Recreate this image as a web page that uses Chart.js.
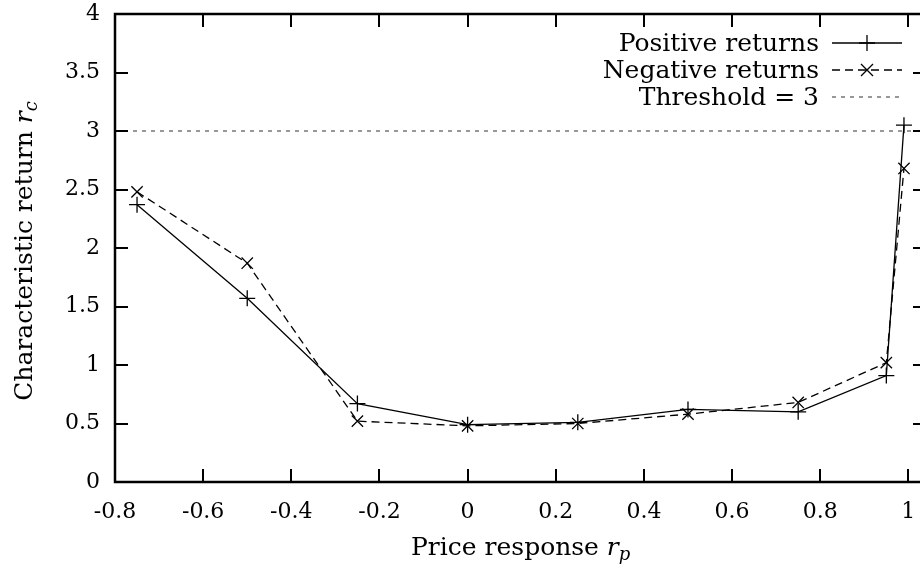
<!DOCTYPE html>
<html>
<head>
<meta charset="utf-8">
<script src="https://cdn.jsdelivr.net/npm/chart.js@4"></script>
<style>
  html, body { margin: 0; padding: 0; background: #fff; overflow: hidden; }
  #wrap { width: 940px; height: 565px; }
</style>
</head>
<body>
<div id="wrap"><canvas id="retChart" width="940" height="565"></canvas></div>
<script>
// price response values where returns were measured
const priceResponse = [-0.75, -0.5, -0.25, 0, 0.25, 0.5, 0.75, 0.95, 0.99]
const positiveReturns = [2.37, 1.57, 0.67, 0.49, 0.51, 0.62, 0.60, 0.91, 3.05]
const negativeReturns = [2.48, 1.87, 0.52, 0.48, 0.50, 0.58, 0.68, 1.02, 2.68]
const thresholdX = [-0.8, 1.04]
const thresholdY = [3, 3]

const xTicks = [-0.8, -0.6, -0.4, -0.2, 0, 0.2, 0.4, 0.6, 0.8, 1]
const yTicks = [0, 0.5, 1, 1.5, 2, 2.5, 3, 3.5, 4]

const seriesLabels = ['Positive returns', 'Negative returns', 'Threshold = 3']

const FONT = '"DejaVu Serif", "Liberation Serif", serif'
const TXT = 25   // titles and key
const SUB = 18   // subscripts

function toPoints(xs, ys) {
  return xs.map((x, i) => ({ x: x, y: ys[i] }))
}

// draws "text r_sub" starting at x, baseline y
function drawSubText(ctx, text, sub, x, y, measureOnly) {
  ctx.font = TXT + 'px ' + FONT
  const w1 = ctx.measureText(text).width
  ctx.font = 'italic ' + TXT + 'px ' + FONT
  const w2 = ctx.measureText('r').width
  ctx.font = 'italic ' + SUB + 'px ' + FONT
  const w3 = ctx.measureText(sub).width
  if (measureOnly) return w1 + w2 + w3
  ctx.font = TXT + 'px ' + FONT
  ctx.fillText(text, x, y)
  ctx.font = 'italic ' + TXT + 'px ' + FONT
  ctx.fillText('r', x + w1, y)
  ctx.font = 'italic ' + SUB + 'px ' + FONT
  ctx.fillText(sub, x + w1 + w2, y + 5)
  return w1 + w2 + w3
}

// gnuplot-like frame with inward ticks on all four sides
const framePlugin = {
  id: 'frame',
  afterDatasetsDraw(chart) {
    const ctx = chart.ctx
    const a = chart.chartArea
    const xs = chart.scales.x
    const ys = chart.scales.y
    const len = 13
    ctx.save()
    ctx.strokeStyle = '#000'
    ctx.lineWidth = 2
    ctx.beginPath()
    xTicks.forEach((t) => {
      const px = Math.round(xs.getPixelForValue(t))
      ctx.moveTo(px, a.bottom); ctx.lineTo(px, a.bottom - len)
      ctx.moveTo(px, a.top); ctx.lineTo(px, a.top + len)
    })
    yTicks.forEach((t) => {
      const py = Math.round(ys.getPixelForValue(t))
      ctx.moveTo(a.left, py); ctx.lineTo(a.left + len, py)
      ctx.moveTo(a.right, py); ctx.lineTo(a.right - len, py)
    })
    ctx.stroke()
    ctx.lineWidth = 2.5
    ctx.strokeRect(a.left, a.top, a.right - a.left, a.bottom - a.top)
    ctx.restore()
  },
  afterDraw(chart) {
    const ctx = chart.ctx
    const a = chart.chartArea
    const xs = chart.scales.x
    ctx.save()
    ctx.fillStyle = '#000'
    ctx.textBaseline = 'alphabetic'
    ctx.textAlign = 'left'
    // x axis title, centred under the ticked part of the axis
    const cx = (xs.getPixelForValue(xTicks[0]) + xs.getPixelForValue(xTicks[xTicks.length - 1])) / 2 + 9
    let w = drawSubText(ctx, 'Price response ', 'p', 0, 0, true)
    drawSubText(ctx, 'Price response ', 'p', cx - w / 2, 555)

    // y axis title, rotated
    ctx.translate(32, (a.top + a.bottom) / 2 + 3)
    ctx.rotate(-Math.PI / 2)
    w = drawSubText(ctx, 'Characteristic return ', 'c', 0, 0, true)
    drawSubText(ctx, 'Characteristic return ', 'c', -w / 2, 0)
    ctx.restore()

    // key in the top right corner
    ctx.save()
    const rows = [43, 70, 97]
    const sampleL = 832, sampleR = 902
    chart.data.datasets.forEach((ds, i) => {
      const y = rows[i]
      ctx.font = TXT + 'px ' + FONT
      ctx.textAlign = 'right'
      ctx.textBaseline = 'middle'
      ctx.fillStyle = '#000'
      ctx.fillText(seriesLabels[i], 819, y + 1)
      ctx.strokeStyle = ds.borderColor
      ctx.lineWidth = ds.borderWidth
      ctx.setLineDash(ds.borderDash || [])
      ctx.beginPath()
      ctx.moveTo(sampleL, y); ctx.lineTo(sampleR, y)
      ctx.stroke()
      ctx.setLineDash([])
      const mx = (sampleL + sampleR) / 2
      const r = 8
      ctx.beginPath()
      if (ds.pointStyle === 'cross') {
        ctx.moveTo(mx - r, y); ctx.lineTo(mx + r, y)
        ctx.moveTo(mx, y - r); ctx.lineTo(mx, y + r)
      } else if (ds.pointStyle === 'crossRot') {
        const d = r * 0.75
        ctx.moveTo(mx - d, y - d); ctx.lineTo(mx + d, y + d)
        ctx.moveTo(mx - d, y + d); ctx.lineTo(mx + d, y - d)
      }
      ctx.stroke()
    })
    ctx.restore()
  }
}

const ctx = document.getElementById('retChart').getContext('2d')
const myChart = new Chart(ctx, {
  type: 'scatter',
  data: {
    datasets: [{
      label: seriesLabels[0],
      data: toPoints(priceResponse, positiveReturns),
      showLine: true,
      borderColor: '#000',
      backgroundColor: '#000',
      borderWidth: 1.3,
      pointStyle: 'cross',
      pointRadius: 8,
      pointBorderWidth: 1.3,
      pointHoverRadius: 8
    }, {
      label: seriesLabels[1],
      data: toPoints(priceResponse, negativeReturns),
      showLine: true,
      borderColor: '#000',
      backgroundColor: '#000',
      borderWidth: 1.3,
      borderDash: [8, 5],
      pointStyle: 'crossRot',
      pointRadius: 8,
      pointBorderWidth: 1.3,
      pointHoverRadius: 8
    }, {
      label: seriesLabels[2],
      data: toPoints(thresholdX, thresholdY),
      showLine: true,
      borderColor: '#333',
      borderWidth: 1.2,
      borderDash: [4, 5],
      pointRadius: 0
    }]
  },
  options: {
    responsive: false,
    animation: false,
    layout: { padding: { top: 14, right: 14, left: 0, bottom: 0 } },
    plugins: {
      legend: { display: false },
      tooltip: { enabled: false }
    },
    scales: {
      x: {
        type: 'linear',
        min: -0.8,
        max: 1.04,
        afterBuildTicks: (s) => { s.ticks = xTicks.map((v) => ({ value: v })) },
        afterFit: (s) => { s.height = 83; s.paddingLeft = 0; s.paddingRight = 0 },
        grid: { display: false, drawTicks: false },
        border: { display: false },
        ticks: {
          color: '#000',
          font: { family: FONT, size: 22 },
          padding: 17,
          maxRotation: 0,
          callback: (v) => String(Math.round(v * 10) / 10)
        }
      },
      y: {
        min: 0,
        max: 4,
        afterBuildTicks: (s) => { s.ticks = yTicks.map((v) => ({ value: v })) },
        afterFit: (s) => { s.width = 115; s.paddingTop = 0; s.paddingBottom = 0 },
        grid: { display: false, drawTicks: false },
        border: { display: false },
        ticks: {
          color: '#000',
          font: { family: FONT, size: 22 },
          padding: 15,
          callback: (v) => String(Math.round(v * 10) / 10)
        }
      }
    }
  },
  plugins: [framePlugin]
})
</script>
</body>
</html>
